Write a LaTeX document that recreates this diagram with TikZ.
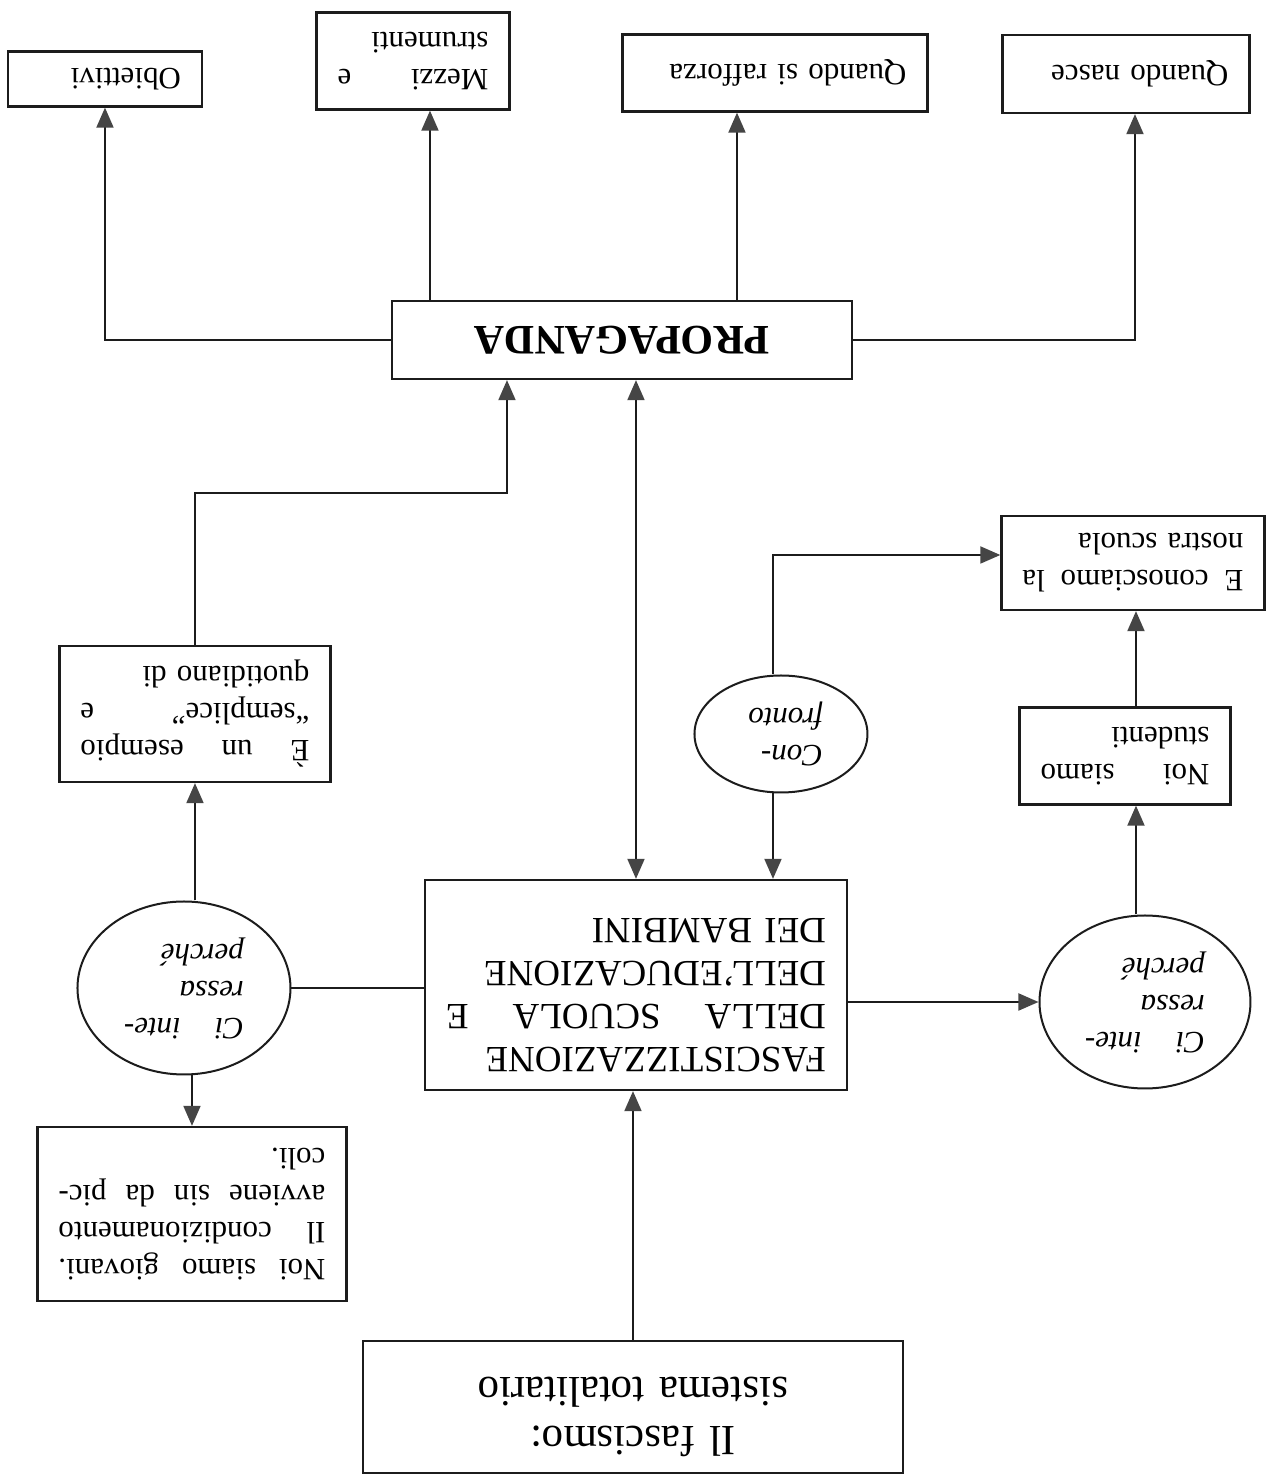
\documentclass[tikz,border=0pt]{standalone}
\usepackage{fontspec}
\setmainfont{Liberation Serif}
\usetikzlibrary{arrows.meta,shapes.geometric}
\definecolor{tipgray}{HTML}{454545}
\definecolor{inkline}{HTML}{1C1C1C}
\newcommand{\smalltxt}{\fontsize{31}{37}\selectfont}
\newcommand{\bigtxt}{\fontsize{37}{43}\selectfont}
\newcommand{\hugetxt}{\fontsize{43}{49}\selectfont}

\begin{document}
\begin{tikzpicture}[x=1pt,y=-1pt,rotate=180,transform shape,
    box/.style={draw=inkline,line width=2.3pt,inner xsep=21pt,inner ysep=2pt,align=left,font=\smalltxt},
    bigbox/.style={box,font=\bigtxt},
    oval/.style={draw=inkline,ellipse,line width=2pt,inner sep=0pt,align=left,font=\smalltxt\itshape},
    link/.style={draw=inkline,line width=1.9pt},
    arr/.style={link,-{Triangle[length=20pt,width=17pt,color=tipgray]}},
    dblarr/.style={link,{Triangle[length=20pt,width=17pt,color=tipgray]}-{Triangle[length=20pt,width=17pt,color=tipgray]}}]
      \fill[white] (0,0) rectangle (1266,1476);
      \useasboundingbox (0,0) rectangle (1266,1476);
      \node[bigbox,font=\hugetxt,align=center,text width=498pt,minimum height=132pt] at (633,69) (fascismo) {Il fascismo:\\sistema totalitario\rule[-20pt]{0pt}{20pt}};
      \node[bigbox,text width=380pt,minimum height=210pt] at (630,491) (fasc) {FASCISTIZZAZIONE\\DELLA\hfill SCUOLA\hfill E\\DELL’EDUCAZIONE\\DEI BAMBINI\rule[-20pt]{0pt}{20pt}};
      \node[box,font=\fontsize{42}{48}\selectfont\bfseries,align=center,minimum width=460pt,minimum height=78pt] at (644,1136) (prop) {PROPAGANDA};
      \node[oval,text width=120pt,minimum width=213pt,minimum height=173pt] at (1082,488) (ci1) {Ci\hfill inte-\\ressa\\perché};
      \node[oval,text width=120pt,minimum width=211pt,minimum height=173pt] at (121,474) (ci2) {Ci\hfill inte-\\ressa\\perché};
      \node[oval,text width=84pt,minimum width=173pt,minimum height=117pt] at (485,742) (confronto) {Con-\\fronto};
      \node[box,text width=267pt,minimum height=174pt] at (1074,262) (giovani) {Noi\hfill siamo\hfill giovani.\\Il\hfill condizionamento\\avviene\hfill sin\hfill da\hfill pic-\\coli.};
      \node[box,text width=229pt,minimum height=136pt] at (1071,762) (esempio) {È\hfill un\hfill esempio\\“semplice”\hfill e\\quotidiano di};
      \node[box,text width=169pt,minimum height=97pt] at (141,720) (studenti) {Noi\hfill siamo\\studenti};
      \node[box,text width=221pt,minimum height=94pt] at (133,913) (conosciamo) {E\hfill conosciamo\hfill la\\nostra scuola};
      \node[box,text width=152pt,minimum height=55pt] at (1161,1397) (obiettivi) {Obiettivi};
      \node[box,text width=151pt,minimum height=97pt] at (853,1415) (mezzi) {Mezzi\hfill e\\strumenti};
      \node[box,text width=263pt,minimum height=77pt] at (491,1403) (rafforza) {Quando si rafforza};
      \node[box,text width=205pt,minimum height=78pt] at (140,1402) (nasce) {Quando nasce};
      \coordinate (bend) at (759,983);
      \coordinate (kink) at (493,921);
      \coordinate (colR) at (130,0);
      \coordinate (colN) at (131,0);
      \coordinate (colM) at (836,0);
      \coordinate (colQ) at (529,0);
      \draw[arr] (fascismo.south) -- (fascismo.south |- fasc.north);
      \draw[dblarr] (fasc.south) -- (fasc.south |- prop.north);
      \draw[link] (fasc.east |- ci1.west) -- (ci1);
      \draw[arr] (fasc.west |- ci2.east) -- (ci2);
      \draw[arr] (giovani.south |- ci1.north) -- (giovani.south);
      \draw[arr] (esempio.north |- ci1.south) -- (esempio.north);
      \draw[arr] (esempio.south) |- (bend) -- (bend |- prop.north);
      \draw[arr] (colR |- ci2.south) -- (colR |- studenti.north);
      \draw[arr] (colR |- studenti.south) -- (colR |- conosciamo.north);
      \draw[arr] (kink |- confronto.north) -- (kink |- fasc.south);
      \draw[arr] (kink |- confronto.south) -- (kink) -- (kink -| conosciamo.east);
      \draw[arr] (prop.east) -| (obiettivi.north);
      \draw[arr] (prop.west) -| (colN |- nasce.north);
      \draw[arr] (colM |- prop.south) -- (colM |- mezzi.north);
      \draw[arr] (colQ |- prop.south) -- (colQ |- rafforza.north);
    \end{tikzpicture}
\end{document}
